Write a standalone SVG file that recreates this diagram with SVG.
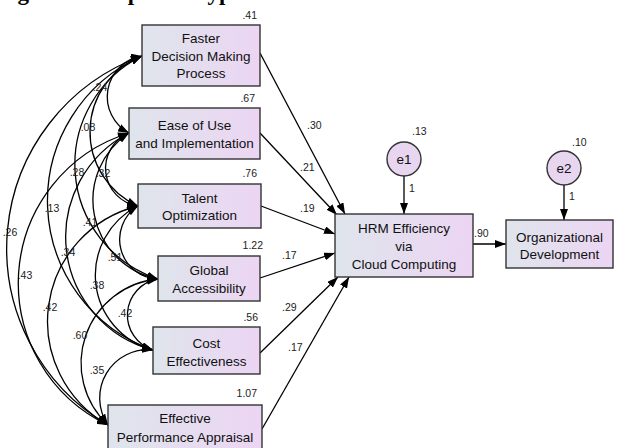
<svg xmlns="http://www.w3.org/2000/svg" width="619" height="448" viewBox="0 0 619 448">
<defs>
<linearGradient id="bg" x1="0" y1="0" x2="1" y2="0">
<stop offset="0" stop-color="#dfe5ec"/>
<stop offset="1" stop-color="#ecd5f3"/>
</linearGradient>
<marker id="ah" viewBox="0 0 11 8" refX="11" refY="4" markerWidth="11" markerHeight="8" markerUnits="userSpaceOnUse" orient="auto-start-reverse">
<path d="M0,0 L11,4 L0,8 z" fill="#000"/>
</marker>
</defs>
<style>
.box{fill:url(#bg);stroke:#333;stroke-width:1.4}
.err{fill:#e8d6f0;stroke:#333;stroke-width:1.4}
.lbl{font-family:"Liberation Sans",Arial,sans-serif;font-size:13.5px;fill:#111;text-anchor:middle}
.num{font-family:"Liberation Sans",Arial,sans-serif;font-size:10.5px;fill:#222}
.c{fill:none;stroke:#000;stroke-width:1.3;marker-end:url(#ah)}
.cv{fill:none;stroke:#000;stroke-width:1.3;marker-start:url(#ah);marker-end:url(#ah)}
.title{font-family:"Liberation Serif","Times New Roman",serif;font-weight:bold;font-size:23px;fill:#000}
</style>
<text class="title" x="-3" y="0">Figure 3: Proposed Hypothesized Model</text>

<g id="connectors">
<path class="cv" d="M142,56 A41.2,41.2 0 0 0 129,133"/>
<path class="cv" d="M142,56 A81.3,81.3 0 0 0 138,206"/>
<path class="cv" d="M142,56 A120.8,120.8 0 0 0 158,279"/>
<path class="cv" d="M142,56 A158.2,158.2 0 0 0 153,350"/>
<path class="cv" d="M142,56 A204.5,204.5 0 0 0 108,425"/>
<path class="cv" d="M129,133 A38.2,38.2 0 0 0 138,206"/>
<path class="cv" d="M129,133 A80.4,80.4 0 0 0 158,279"/>
<path class="cv" d="M129,133 A116.9,116.9 0 0 0 153,350"/>
<path class="cv" d="M129,133 A157.1,157.1 0 0 0 108,425"/>
<path class="cv" d="M138,206 A39.6,39.6 0 0 0 158,279"/>
<path class="cv" d="M138,206 A77.4,77.4 0 0 0 153,350"/>
<path class="cv" d="M138,206 A118.9,118.9 0 0 0 108,425"/>
<path class="cv" d="M158,279 A36.6,36.6 0 0 0 153,350"/>
<path class="cv" d="M158,279 A84.5,84.5 0 0 0 108,425"/>
<path class="cv" d="M153,350 A48.2,48.2 0 0 0 108,425"/>

<path class="c" d="M260,53 L345,214"/>
<path class="c" d="M260,133 L337,215"/>
<path class="c" d="M261,206 L335,234"/>
<path class="c" d="M260,278 L335,253"/>
<path class="c" d="M260,353 L338,277"/>
<path class="c" d="M262,429 L349,277"/>
<path class="c" d="M473,244 L506,244"/>
<path class="c" d="M404,176 L404,214"/>
<path class="c" d="M564,185 L564,220"/>

<text class="num" x="100" y="91" text-anchor="middle">.24</text>
<text class="num" x="88" y="131" text-anchor="middle">.08</text>
<text class="num" x="77" y="176" text-anchor="middle">.28</text>
<text class="num" x="103" y="177" text-anchor="middle">.32</text>
<text class="num" x="52" y="212" text-anchor="middle">.13</text>
<text class="num" x="90" y="226" text-anchor="middle">.41</text>
<text class="num" x="10" y="236" text-anchor="middle">.26</text>
<text class="num" x="68" y="256" text-anchor="middle">.34</text>
<text class="num" x="115" y="261" text-anchor="middle">.51</text>
<text class="num" x="25" y="279" text-anchor="middle">.43</text>
<text class="num" x="97" y="289" text-anchor="middle">.38</text>
<text class="num" x="50" y="311" text-anchor="middle">.42</text>
<text class="num" x="125" y="317" text-anchor="middle">.42</text>
<text class="num" x="80" y="339" text-anchor="middle">.60</text>
<text class="num" x="97" y="374" text-anchor="middle">.35</text>

<text class="num" x="307" y="129">.30</text>
<text class="num" x="300" y="171">.21</text>
<text class="num" x="300" y="212">.19</text>
<text class="num" x="282" y="259">.17</text>
<text class="num" x="282" y="311">.29</text>
<text class="num" x="288" y="351">.17</text>
<text class="num" x="474" y="237">.90</text>
<text class="num" x="409" y="192">1</text>
<text class="num" x="569" y="200">1</text>
</g>

<g id="n1">
<rect class="box" x="142" y="25" width="118" height="61"/>
<text class="lbl" x="201" y="43">Faster</text>
<text class="lbl" x="201" y="60.5">Decision Making</text>
<text class="lbl" x="201" y="78">Process</text>
<text class="num" x="257" y="19" text-anchor="end">.41</text>
</g>
<g id="n2">
<rect class="box" x="129" y="108" width="131" height="51"/>
<text class="lbl" x="194.5" y="130">Ease of Use</text>
<text class="lbl" x="194.5" y="148">and Implementation</text>
<text class="num" x="255" y="102" text-anchor="end">.67</text>
</g>
<g id="n3">
<rect class="box" x="138" y="184" width="123" height="44"/>
<text class="lbl" x="199.5" y="203">Talent</text>
<text class="lbl" x="199.5" y="220">Optimization</text>
<text class="num" x="257" y="177" text-anchor="end">.76</text>
</g>
<g id="n4">
<rect class="box" x="158" y="256" width="102" height="45"/>
<text class="lbl" x="209" y="275">Global</text>
<text class="lbl" x="209" y="293">Accessibility</text>
<text class="num" x="263" y="249" text-anchor="end">1.22</text>
</g>
<g id="n5">
<rect class="box" x="153" y="327" width="107" height="47"/>
<text class="lbl" x="206.5" y="348">Cost</text>
<text class="lbl" x="206.5" y="366">Effectiveness</text>
<text class="num" x="258" y="321" text-anchor="end">.56</text>
</g>
<g id="n6">
<rect class="box" x="108" y="405" width="154" height="50"/>
<text class="lbl" x="185" y="423">Effective</text>
<text class="lbl" x="185" y="442">Performance Appraisal</text>
<text class="num" x="257" y="397" text-anchor="end">1.07</text>
</g>
<g id="hrm">
<rect class="box" x="335" y="214" width="138" height="63"/>
<text class="lbl" x="404" y="233">HRM Efficiency</text>
<text class="lbl" x="404" y="251">via</text>
<text class="lbl" x="404" y="269">Cloud Computing</text>
</g>
<g id="org">
<rect class="box" x="506" y="220" width="107" height="48"/>
<text class="lbl" x="559.5" y="242">Organizational</text>
<text class="lbl" x="559.5" y="259">Development</text>
</g>
<g id="e1">
<circle class="err" cx="404" cy="159" r="17"/>
<text class="lbl" x="404" y="164">e1</text>
<text class="num" x="412" y="135">.13</text>
</g>
<g id="e2">
<circle class="err" cx="564" cy="168" r="17"/>
<text class="lbl" x="564" y="173">e2</text>
<text class="num" x="572" y="146">.10</text>
</g>
</svg>
